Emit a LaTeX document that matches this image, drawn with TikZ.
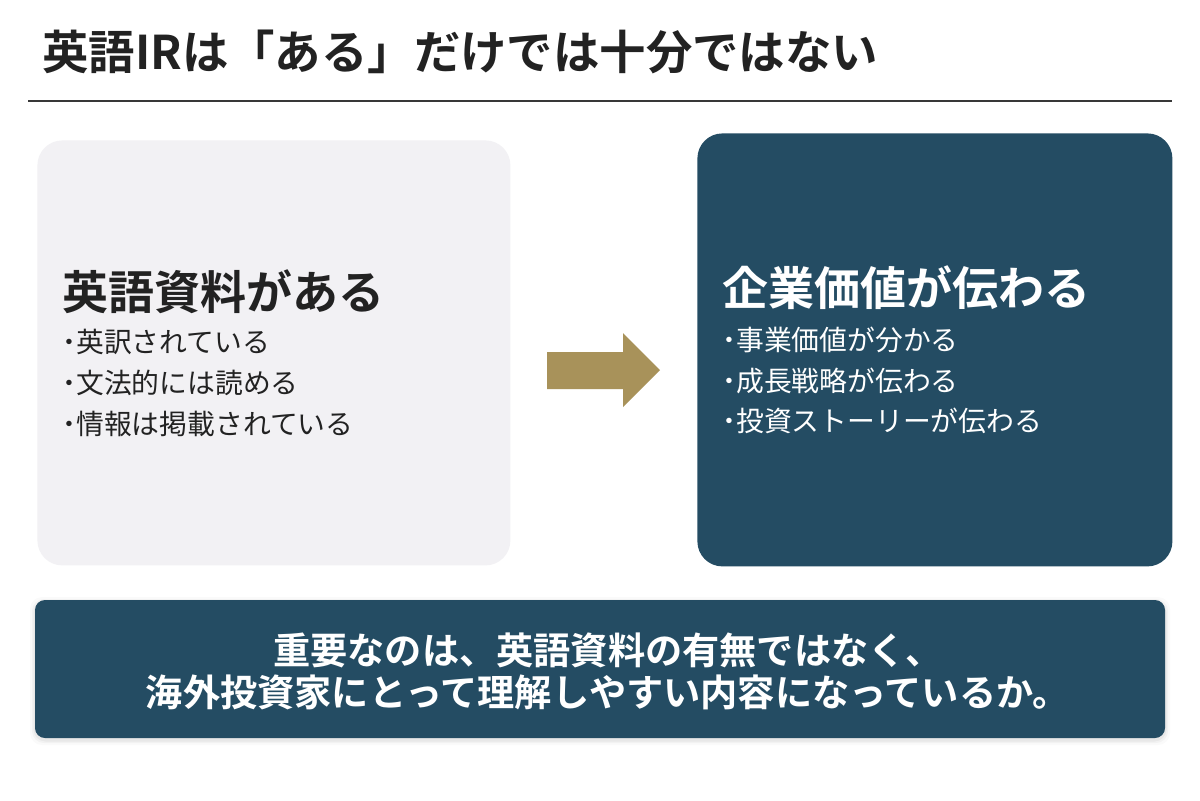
\documentclass[tikz,border=0pt]{standalone}
\usepackage{fontspec}
\setmainfont{Noto Sans CJK JP}[BoldFont={Noto Sans CJK JP Bold}]
\definecolor{navy}{HTML}{244C63}
\definecolor{gold}{HTML}{A8925A}
\definecolor{paper}{HTML}{F2F1F4}
\definecolor{ink}{HTML}{222222}
\newcommand{\bdot}{\textbf{･}}
\tikzset{
  panel/.style={anchor=north west, inner sep=0pt, rounded corners=12.5pt},
  headtext/.style={anchor=west, inner sep=0pt, font=\fontsize{23}{26}\selectfont\bfseries},
  itemtext/.style={anchor=west, inner sep=0pt, font=\fontsize{13.9}{16}\selectfont},
  bannertext/.style={inner sep=0pt, text=white, font=\fontsize{18.6}{21}\selectfont\bfseries},
}
\begin{document}
\begin{tikzpicture}[x=0.5pt,y=-0.5pt]
\useasboundingbox (0,0) rectangle (1200,800);
\fill[white] (0,0) rectangle (1200,800);
% title
\node[anchor=west, inner sep=0pt, text=ink, font=\fontsize{23.2}{27}\selectfont\bfseries] (title) at (42,52) {英語IRは「ある」だけでは十分ではない};
\draw[line width=1pt, color=ink!90] (28,101) -- (1172,101);
% left panel
\node[panel, fill=paper, minimum width=236.5pt, minimum height=212.5pt] (left) at (37,140) {};
\node[headtext, text=ink] (lh) at (62,292) {英語資料がある};
\node[itemtext, text=ink] (l1) at (62,342) {\bdot 英訳されている};
\node[itemtext, text=ink] (l2) at (62,383) {\bdot 文法的には読める};
\node[itemtext, text=ink] (l3) at (62,424) {\bdot 情報は掲載されている};
% right panel
\node[panel, fill=navy, minimum width=237.5pt, minimum height=216.5pt] (right) at (697,133) {};
\node[headtext, text=white] (rh) at (722,288) {企業価値が伝わる};
\node[itemtext, text=white] (r1) at (722,340) {\bdot 事業価値が分かる};
\node[itemtext, text=white] (r2) at (722,381) {\bdot 成長戦略が伝わる};
\node[itemtext, text=white] (r3) at (722,421) {\bdot 投資ストーリーが伝わる};
% arrow
\fill[gold] (547,352) -- (623,352) -- (623,333) -- (660,370) -- (623,407) -- (623,389) -- (547,389) -- cycle;
% banner shadow
\foreach \d/\o in {5/0.02,3/0.03,1.5/0.04}{
  \fill[black, opacity=\o, rounded corners=6pt] (35-\d,600-\d+2) rectangle (1165+\d,738+\d+2);
}
\fill[navy, rounded corners=5pt] (35,600) rectangle (1165,738);
\node[bannertext] (b1) at (608,650) {重要なのは、英語資料の有無ではなく、};
\node[bannertext] (b2) at (608,692) {海外投資家にとって理解しやすい内容になっているか。};
\end{tikzpicture}
\end{document}
